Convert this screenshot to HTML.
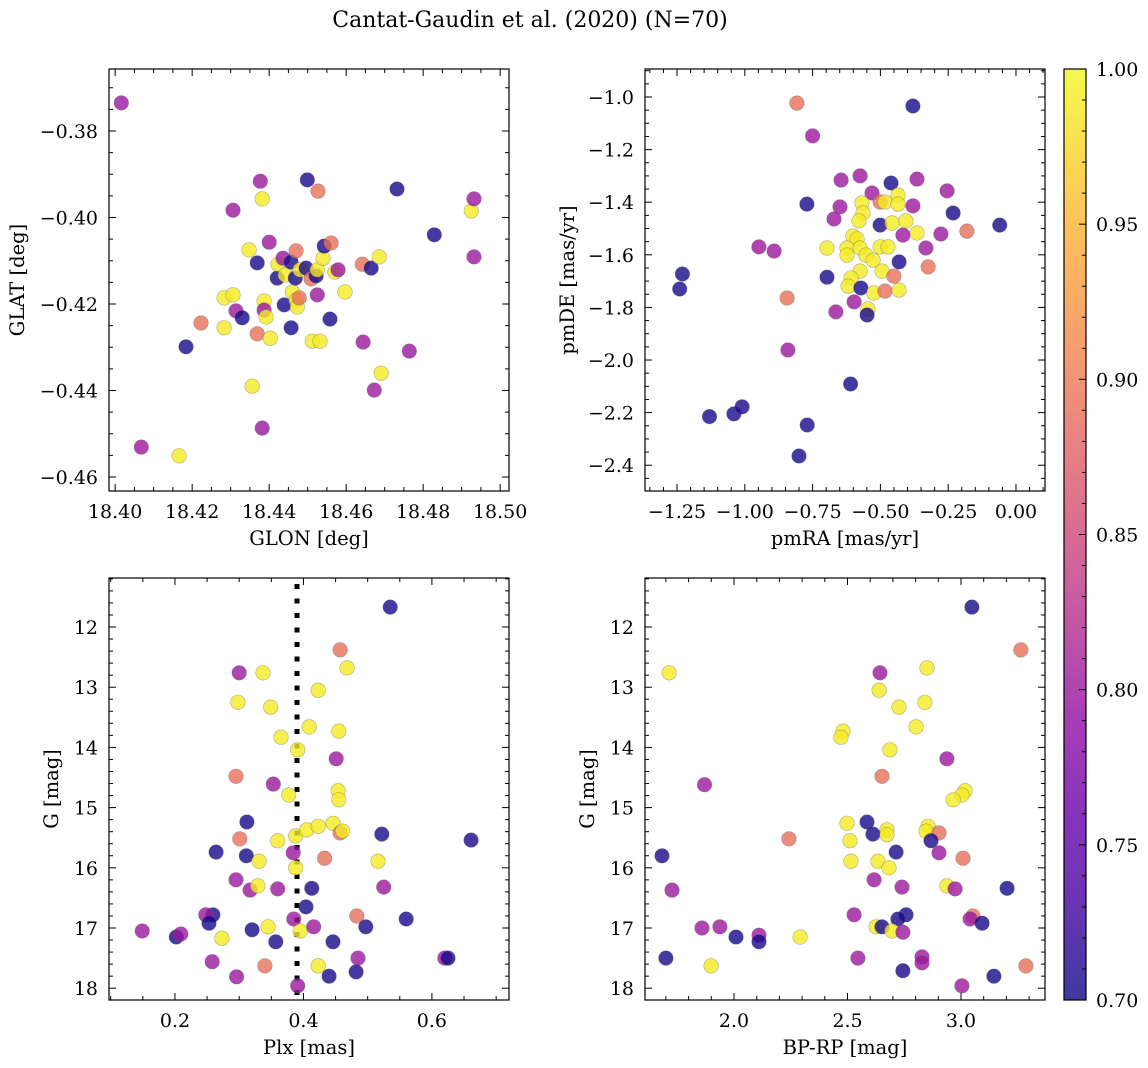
<!DOCTYPE html>
<html><head><meta charset="utf-8"><style>
html,body{margin:0;padding:0;background:#fff;}
svg{display:block;font-family:"DejaVu Serif","Liberation Serif",serif;}
</style></head><body>
<svg id="fig" width="1148" height="1068" viewBox="0 0 1148 1068" xmlns="http://www.w3.org/2000/svg">
<text x="530" y="27" font-size="22" text-anchor="middle">Cantat-Gaudin et al. (2020) (N=70)</text>
</svg>
<script>
const N=0.705,P=0.80,S=0.89,Y=0.99;
// Panel 1: GLON / GLAT
const p1x=[18.4016,18.4068,18.4166,18.4184,18.4223,18.4283,18.4283,18.4306,18.4306,18.4314,18.4330,18.4348,18.4356,18.4369,18.4369,18.4377,18.4382,18.4382,18.4387,18.4387,18.4392,18.4400,18.4403,18.4421,18.4423,18.4436,18.4442,18.4439,18.4457,18.4457,18.4460,18.4470,18.4468,18.4470,18.4473,18.4478,18.4480,18.4499,18.4496,18.4509,18.4512,18.4522,18.4525,18.4525,18.4527,18.4532,18.4540,18.4543,18.4561,18.4558,18.4571,18.4579,18.4597,18.4644,18.4642,18.4665,18.4673,18.4686,18.4691,18.4732,18.4764,18.4829,18.4925,18.4932,18.4932];
const p1y=[-0.3735,-0.4531,-0.4551,-0.4299,-0.4244,-0.4255,-0.4186,-0.4179,-0.3983,-0.4216,-0.4232,-0.4075,-0.4390,-0.4269,-0.4105,-0.3916,-0.3957,-0.4487,-0.4193,-0.4214,-0.4230,-0.4057,-0.4279,-0.4140,-0.4108,-0.4094,-0.4133,-0.4202,-0.4103,-0.4255,-0.4172,-0.4077,-0.4140,-0.4191,-0.4207,-0.4186,-0.4121,-0.3913,-0.4117,-0.4142,-0.4286,-0.4135,-0.4121,-0.4179,-0.3939,-0.4286,-0.4094,-0.4066,-0.4059,-0.4235,-0.4126,-0.4121,-0.4172,-0.4288,-0.4108,-0.4117,-0.4399,-0.4091,-0.4360,-0.3934,-0.4309,-0.4040,-0.3985,-0.3957,-0.4091];
const p1c=[P,P,Y,N,S,Y,Y,Y,P,P,N,Y,Y,S,N,P,Y,P,Y,P,Y,P,Y,N,Y,P,Y,N,N,N,Y,S,N,Y,Y,S,Y,N,N,S,Y,N,Y,P,S,Y,Y,N,S,N,Y,P,Y,P,S,N,P,Y,Y,N,P,N,Y,P,P];
// Panel 2: pmRA / pmDE
const p2x=[-1.23,-1.24,-1.13,-1.04,-1.01,-0.77,-0.80,-0.61,-0.808,-0.844,-0.841,-0.948,-0.892,-0.75,-0.771,-0.645,-0.575,-0.461,-0.365,-0.254,-0.232,-0.181,-0.531,-0.649,-0.671,-0.568,-0.564,-0.579,-0.501,-0.483,-0.435,-0.435,-0.380,-0.501,-0.457,-0.406,-0.365,-0.417,-0.277,-0.332,-0.324,-0.601,-0.586,-0.697,-0.623,-0.623,-0.575,-0.553,-0.527,-0.501,-0.472,-0.431,-0.575,-0.494,-0.450,-0.608,-0.619,-0.572,-0.524,-0.483,-0.431,-0.597,-0.664,-0.546,-0.549,-0.38,-0.06,-0.697];
const p2y=[-1.673,-1.730,-2.215,-2.205,-2.178,-2.247,-2.365,-2.091,-1.023,-1.764,-1.962,-1.570,-1.586,-1.148,-1.407,-1.316,-1.300,-1.327,-1.312,-1.357,-1.441,-1.510,-1.365,-1.418,-1.464,-1.403,-1.441,-1.471,-1.399,-1.399,-1.373,-1.407,-1.414,-1.487,-1.479,-1.471,-1.517,-1.525,-1.521,-1.574,-1.646,-1.529,-1.540,-1.574,-1.574,-1.601,-1.574,-1.601,-1.620,-1.570,-1.570,-1.627,-1.662,-1.662,-1.681,-1.688,-1.719,-1.726,-1.745,-1.738,-1.734,-1.779,-1.817,-1.806,-1.829,-1.034,-1.487,-1.685];
const p2c=[N,N,N,N,N,N,N,N,S,S,P,P,P,P,N,P,P,N,P,P,N,S,P,P,P,Y,Y,Y,S,Y,Y,Y,P,N,Y,Y,Y,P,P,P,S,Y,Y,Y,Y,Y,Y,Y,Y,Y,Y,N,Y,Y,S,Y,Y,N,Y,S,Y,P,P,Y,N,N,N,N];
// Panel 3: Plx / G
const p3x=[0.457,0.300,0.337,0.468,0.423,0.298,0.349,0.409,0.455,0.365,0.391,0.451,0.295,0.353,0.377,0.454,0.455,0.312,0.388,0.405,0.423,0.446,0.457,0.461,0.522,0.301,0.360,0.264,0.311,0.384,0.331,0.433,0.516,0.388,0.295,0.317,0.329,0.360,0.413,0.525,0.404,0.259,0.248,0.253,0.385,0.483,0.497,0.320,0.345,0.395,0.416,0.273,0.357,0.446,0.258,0.340,0.423,0.485,0.296,0.440,0.482,0.391,0.149,0.202,0.209,0.535,0.560,0.620,0.625,0.661];
const p3y=[12.38,12.76,12.76,12.68,13.05,13.25,13.33,13.66,13.73,13.83,14.04,14.19,14.48,14.61,14.79,14.72,14.87,15.24,15.47,15.37,15.31,15.26,15.42,15.39,15.44,15.52,15.55,15.74,15.80,15.75,15.89,15.84,15.89,16.00,16.20,16.37,16.30,16.35,16.34,16.32,16.65,16.78,16.78,16.92,16.85,16.80,16.98,17.03,16.98,17.05,16.98,17.17,17.23,17.23,17.56,17.63,17.63,17.50,17.81,17.80,17.73,17.96,17.05,17.15,17.10,11.67,16.85,17.50,17.50,15.54];
const p3c=[S,P,Y,Y,Y,Y,Y,Y,Y,Y,Y,P,S,P,Y,Y,Y,N,Y,Y,Y,Y,S,Y,N,S,Y,N,N,P,Y,S,Y,Y,P,P,Y,P,N,P,N,N,P,N,P,S,N,N,Y,Y,P,Y,N,N,P,S,Y,P,P,N,N,P,P,N,P,N,N,P,N,N];
// Panel 4: BP-RP / G
const p4x=[2.643,2.850,2.639,2.727,2.841,2.802,2.480,2.471,2.687,2.938,2.652,3.018,3.004,2.965,2.498,2.586,2.674,2.612,2.674,2.855,2.846,2.903,2.868,2.511,2.714,2.903,3.009,2.515,2.634,2.683,2.617,2.740,2.938,2.974,2.529,2.758,2.722,3.053,3.040,3.093,2.626,2.652,2.696,2.744,2.291,2.546,2.828,2.828,2.744,3.004,3.145,1.683,1.714,1.727,1.700,1.859,1.899,1.938,2.009,2.110,2.110,2.242,3.203,3.264,3.286,3.048,1.870];
const p4y=[12.76,12.68,13.05,13.33,13.25,13.66,13.73,13.83,14.04,14.19,14.48,14.72,14.79,14.87,15.26,15.24,15.37,15.44,15.45,15.31,15.39,15.42,15.55,15.55,15.74,15.75,15.84,15.89,15.89,16.00,16.20,16.32,16.30,16.35,16.78,16.78,16.85,16.80,16.85,16.92,16.98,16.98,17.05,17.07,17.15,17.50,17.48,17.58,17.71,17.96,17.80,15.80,12.76,16.37,17.50,17.00,17.63,16.98,17.15,17.12,17.23,15.52,16.34,12.38,17.63,11.67,14.62];
const p4c=[P,Y,Y,Y,Y,Y,Y,Y,Y,P,S,Y,Y,Y,Y,N,Y,N,Y,Y,Y,S,N,Y,N,P,S,Y,Y,Y,P,P,Y,P,P,N,N,S,P,N,Y,N,Y,P,Y,P,P,P,N,P,N,N,Y,P,N,P,Y,P,N,P,N,S,N,S,S,N,P];
const cbTicks=[0.70,0.75,0.80,0.85,0.90,0.95,1.00];

const NS="http://www.w3.org/2000/svg";
const svg=document.getElementById('fig');
function mk(tag,attrs,parent){const e=document.createElementNS(NS,tag);for(const k in attrs)e.setAttribute(k,attrs[k]);(parent||svg).appendChild(e);return e;}
const stops=[[13,8,135],[65,4,157],[106,0,168],[143,13,164],[177,42,144],[204,71,120],[225,100,98],[242,132,75],[252,166,54],[252,206,37],[240,249,33]];
function plasma(t){t=Math.max(0,Math.min(1,t));const f=t*10,i=Math.min(9,Math.floor(f)),r=f-i;const a=stops[i],b=stops[i+1];return 'rgb('+a.map((v,k)=>Math.round(v+(b[k]-v)*r)).join(',')+')';}
function cnorm(v){return (v-0.70)/0.30;}
function fmt(v,d){const s=v.toFixed(d);return s.replace('-','\u2212');}
const TFS=19, LFS=19.5;

function panel(o){
  const g=mk('g',{});
  
  
  const sx=v=>o.x0+(v-o.xd[0])/(o.xd[1]-o.xd[0])*(o.x1-o.x0);
  const sy=v=>o.inv? o.y0+(v-o.yd[0])/(o.yd[1]-o.yd[0])*(o.y1-o.y0) : o.y1-(v-o.yd[0])/(o.yd[1]-o.yd[0])*(o.y1-o.y0);
  const clip='clip'+o.name;
  const cp=mk('clipPath',{id:clip},g);mk('rect',{x:o.x0,y:o.y0,width:o.x1-o.x0,height:o.y1-o.y0},cp);
  const pg=mk('g',{'clip-path':'url(#'+clip+')'},g);
  if(o.vline!==undefined){
    const l=mk('line',{x1:sx(o.vline),x2:sx(o.vline),y1:o.y0+6,y2:o.y1,stroke:'#000','stroke-width':5,'stroke-dasharray':'5 9.5'},pg);
    
    
  }
  for(let i=0;i<o.xs.length;i++){
    const c=mk('circle',{cx:sx(o.xs[i]).toFixed(1),cy:sy(o.ys[i]).toFixed(1),r:7.3,fill:plasma(cnorm(o.cs[i])),'fill-opacity':0.8,stroke:'#666','stroke-opacity':0.5,'stroke-width':0.6},pg);
    
    
  }
  const fr=mk('rect',{x:o.x0,y:o.y0,width:o.x1-o.x0,height:o.y1-o.y0,fill:'none',stroke:'#000','stroke-width':1.2},g);
  
  
  const xa=mk('g',{},g);
  
  
  const sxm=Math.ceil(o.xd[0]/o.xm);
  for(let k=sxm;k*o.xm<=o.xd[1]+1e-9;k++){
    const v=k*o.xm, X=sx(v), major=Math.abs(k%o.xsub)<1e-6;
    const L=major?7:4;
    mk('line',{x1:X,x2:X,y1:o.y1,y2:o.y1-L,stroke:'#000','stroke-width':1},xa);
    mk('line',{x1:X,x2:X,y1:o.y0,y2:o.y0+L,stroke:'#000','stroke-width':1},xa);
    if(major){const t=mk('text',{x:X,y:o.y1+27,'font-size':TFS,'text-anchor':'middle'},xa);t.textContent=fmt(v,o.xdec);}
  }
  const ya=mk('g',{},g);
  
  
  const lo=Math.min(o.yd[0],o.yd[1]),hi=Math.max(o.yd[0],o.yd[1]);
  for(let k=Math.ceil(lo/o.ym-1e-9);k*o.ym<=hi+1e-9;k++){
    const v=k*o.ym, Yp=sy(v), major=Math.abs(k%o.ysub)<1e-6;
    const L=major?7:4;
    mk('line',{x1:o.x0,x2:o.x0+L,y1:Yp,y2:Yp,stroke:'#000','stroke-width':1},ya);
    mk('line',{x1:o.x1,x2:o.x1-L,y1:Yp,y2:Yp,stroke:'#000','stroke-width':1},ya);
    if(major){const t=mk('text',{x:o.x0-11,y:Yp+7,'font-size':TFS,'text-anchor':'end'},ya);t.textContent=fmt(v,o.ydec);}
  }
  const xl=mk('text',{x:(o.x0+o.x1)/2,y:o.y1+54,'font-size':LFS,'text-anchor':'middle'},g);
  
  
  xl.textContent=o.xlabel;
  const yl=mk('text',{x:0,y:0,'font-size':LFS,'text-anchor':'middle',transform:'translate('+o.ylx+','+((o.y0+o.y1)/2)+') rotate(-90)'},g);
  
  
  yl.textContent=o.ylabel;
}
panel({name:'glon-glat-panel',x0:109,x1:509,y0:69,y1:491,xd:[18.3984,18.5023],yd:[-0.46324,-0.36566],xm:0.005,xsub:4,ym:0.005,ysub:4,xdec:2,ydec:2,xs:p1x,ys:p1y,cs:p1c,xlabel:'GLON [deg]',ylabel:'GLAT [deg]',ylx:24});
panel({name:'proper-motion-panel',x0:645,x1:1045,y0:69,y1:491,xd:[-1.368,0.107],yd:[-2.498,-0.8935],xm:0.05,xsub:5,ym:0.05,ysub:4,xdec:2,ydec:1,xs:p2x,ys:p2y,cs:p2c,xlabel:'pmRA [mas/yr]',ylabel:'pmDE [mas/yr]',ylx:574});
panel({name:'parallax-magnitude-panel',x0:109,x1:509,y0:578,y1:1000,xd:[0.0973,0.720],yd:[11.186,18.196],inv:true,xm:0.05,xsub:4,ym:0.2,ysub:5,xdec:1,ydec:0,xs:p3x,ys:p3y,cs:p3c,xlabel:'Plx [mas]',ylabel:'G [mag]',ylx:58,vline:0.39});
panel({name:'color-magnitude-panel',x0:645,x1:1045,y0:578,y1:1000,xd:[1.608,3.370],yd:[11.186,18.196],inv:true,xm:0.1,xsub:5,ym:0.2,ysub:5,xdec:1,ydec:0,xs:p4x,ys:p4y,cs:p4c,xlabel:'BP-RP [mag]',ylabel:'G [mag]',ylx:594});

const cb=mk('g',{});


const defs=mk('defs',{},cb);
const lg=mk('linearGradient',{id:'plasmaGrad',x1:0,y1:1,x2:0,y2:0},defs);
for(let i=0;i<=20;i++){mk('stop',{offset:(i/20),'stop-color':plasma(i/20),'stop-opacity':0.8},lg);}
const CB={x0:1064,x1:1086,y0:69,y1:1000};
mk('rect',{x:CB.x0,y:CB.y0,width:CB.x1-CB.x0,height:CB.y1-CB.y0,fill:'url(#plasmaGrad)',stroke:'#000','stroke-width':1.2},cb);
const cy=v=>CB.y1-(v-0.70)/0.30*(CB.y1-CB.y0);
for(let k=70;k<=100;k++){
  const v=k/100,major=k%5===0,L=major?7:4;
  mk('line',{x1:CB.x1,x2:CB.x1-L,y1:cy(v),y2:cy(v),stroke:'#000','stroke-width':1},cb);
}
cbTicks.forEach(v=>{const t=mk('text',{x:CB.x1+10,y:cy(v)+7,'font-size':TFS},cb);t.textContent=v.toFixed(2);});
</script>
</body></html>
